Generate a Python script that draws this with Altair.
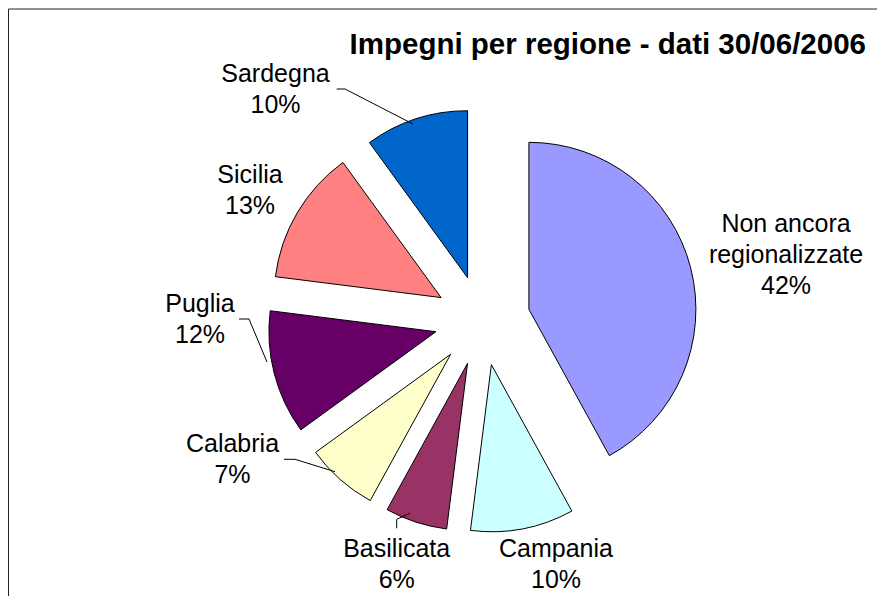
import altair as alt
import pandas as pd

# ---- data ----
CATEGORIES = ["Non ancora regionalizzate", "Campania", "Basilicata", "Calabria",
              "Puglia", "Sicilia", "Sardegna"]
VALUES = [42, 10, 6, 7, 12, 13, 10]
TITLE = "Impegni per regione - dati 30/06/2006"

# ---- style / layout ----
COLORS = ["#9999FF", "#CCFFFF", "#993366", "#FFFFCC", "#660066", "#FF8080", "#0066CC"]
W, H = 869, 588
CX, CY = 474.4, 312.5      # pie centre (px)
DX, DY = 48, 45            # explosion distance (px)
R = 167
FONT = "Liberation Sans"
LABEL_POS = [(778, 223.7), (548, 548.7), (388.7, 548.7), (224.5, 443.7),
             (192, 304), (242, 175), (267.5, 73.7)]
LEADERS = {
    "Sardegna": [(328.7, 81), (337, 81), (405, 116)],
    "Puglia": [(231, 311), (241, 311), (259, 354)],
    "Calabria": [(276, 451.3), (287, 451.3), (327, 463.7)],
    "Basilicata": [(388.7, 520.3), (388.7, 511.3), (402, 505.3)],
}

df = pd.DataFrame({
    "idx": list(range(len(CATEGORIES))),
    "cat": CATEGORIES,
    "value": VALUES,
    "lx": [p[0] for p in LABEL_POS],
    "ly": [p[1] for p in LABEL_POS],
})

lead_rows = []
for name, pts in LEADERS.items():
    for k, (x, y) in enumerate(pts):
        lead_rows.append({"lbl": name, "k": k, "x": x, "y": y})
lead_df = pd.DataFrame(lead_rows)

base = (
    alt.Chart(df)
    .transform_joinaggregate(total="sum(value)")
    .transform_window(cum="sum(value)", sort=[alt.SortField("idx")], frame=[None, 0])
    .transform_calculate(t0="(datum.cum - datum.value) / datum.total * 2 * PI")
    .transform_calculate(t1="datum.cum / datum.total * 2 * PI")
    .transform_calculate(mid="(datum.t0 + datum.t1) / 2")
    .transform_calculate(cx=f"{CX} + {DX} * sin(datum.mid)")
    .transform_calculate(cy=f"{CY} - {DY} * cos(datum.mid)")
    .transform_calculate(pct="format(datum.value / datum.total, '.0%')")
    .transform_calculate(lab="replace(datum.cat, 'ancora ', 'ancora\\n') + '\\n' + datum.pct")
)

arcs = base.mark_arc(stroke="black", strokeWidth=1).encode(
    x=alt.X("cx:Q", scale=None, axis=None),
    y=alt.Y("cy:Q", scale=None, axis=None),
    theta=alt.Theta("t0:Q", scale=None),
    theta2="t1:Q",
    radius=alt.value(R),
    color=alt.Color("cat:N", scale=alt.Scale(domain=CATEGORIES, range=COLORS), legend=None),
)

labels = base.mark_text(
    align="center", baseline="alphabetic", lineBreak="\n", fontSize=25,
    font=FONT, lineHeight=31, color="black",
).encode(
    x=alt.X("lx:Q", scale=None, axis=None),
    y=alt.Y("ly:Q", scale=None, axis=None),
    text="lab:N",
)

leaders = alt.Chart(lead_df).mark_line(color="black", strokeWidth=1).encode(
    x=alt.X("x:Q", scale=None, axis=None),
    y=alt.Y("y:Q", scale=None, axis=None),
    detail="lbl:N",
    order="k:Q",
)

title = alt.Chart(alt.Data(values=[{"t": TITLE}])).mark_text(
    align="right", baseline="alphabetic", fontSize=29.5, fontWeight="bold",
    font=FONT, color="black",
).encode(x=alt.value(858), y=alt.value(46), text="t:N")

one = alt.Data(values=[{}])
top_rule = alt.Chart(one).mark_rule(color="#222222", strokeWidth=1).encode(
    x=alt.value(0.5), x2=alt.value(W), y=alt.value(1))
left_rule = alt.Chart(one).mark_rule(color="#222222", strokeWidth=1).encode(
    x=alt.value(0.5), y=alt.value(1), y2=alt.value(H))

chart = (
    alt.layer(top_rule, left_rule, arcs, leaders, labels, title)
    .properties(width=W, height=H, padding=0, autosize=alt.AutoSizeParams(type="none"))
    .configure_view(stroke=None)
)

chart.save("out.html", embed_options={"renderer": "svg", "actions": False})
